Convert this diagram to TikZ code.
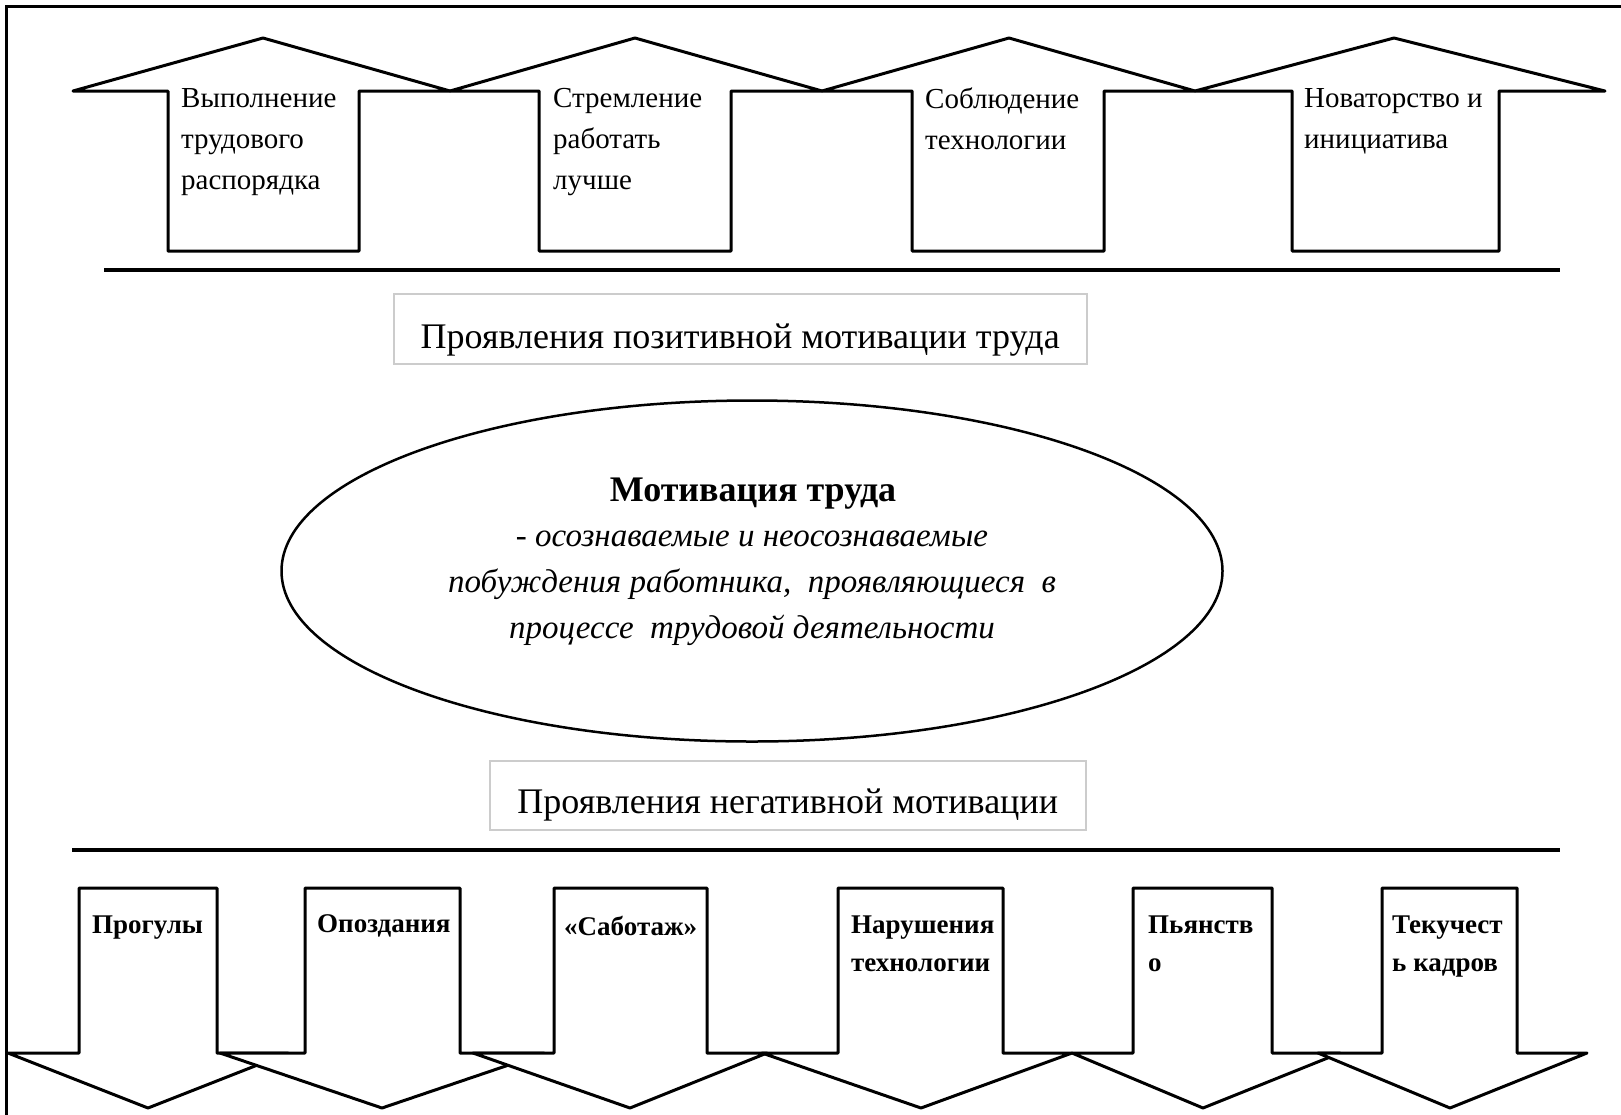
\documentclass[tikz,border=0pt]{standalone}
\usepackage{fontspec}
\setmainfont{Liberation Serif}
\usetikzlibrary{shapes.geometric}

\begin{document}
\begin{tikzpicture}[
      x=1pt, y=-1pt,
      border/.style={line width=3pt},
      bar/.style={line width=4pt},
      pointer/.style={draw, fill=white, line width=3pt, line join=round},
      upitem/.style={anchor=north west, align=left, inner sep=0pt, font=\fontsize{29}{41}\selectfont},
      downitem/.style={anchor=north west, align=left, inner sep=0pt, font=\fontsize{27}{38}\selectfont\bfseries},
      headline/.style={draw=black!20, line width=1.5pt, inner sep=0pt, anchor=north west, font=\fontsize{36}{40}\selectfont}
    ]
    \useasboundingbox (0,0) rectangle (1621,1114);
    \draw[border] (6,1130) -- (6,6) -- (1640,6);

    % upper arrows
    \draw[pointer] (168,251) -- (168,91) -- (73,91) -- (263,38) -- (450,91) -- (359,91) -- (359,251) -- cycle;
    \draw[pointer] (539,251) -- (539,91) -- (450,91) -- (635,38) -- (822,91) -- (731,91) -- (731,251) -- cycle;
    \draw[pointer] (912,251) -- (912,91) -- (822,91) -- (1009,38) -- (1195,91) -- (1104,91) -- (1104,251) -- cycle;
    \draw[pointer] (1292,251) -- (1292,91) -- (1195,91) -- (1394,38) -- (1605,91) -- (1499,91) -- (1499,251) -- cycle;

    \node[upitem] (up1) at (181,88) {Выполнение\\трудового\\распорядка};
    \node[upitem] (up2) at (553,88) {Стремление\\работать\\лучше};
    \node[upitem] (up3) at (925,88) {Соблюдение\\технологии};
    \node[upitem] (up4) at (1304,88) {Новаторство и\\инициатива};

    \draw[bar] (104,270) -- (1560,270);

    \node[headline, minimum width=693pt, text height=55pt, text depth=15pt] (posbox) at (393,293) {Проявления позитивной мотивации труда};

    % centre
    \node[draw, ellipse, line width=2.5pt, minimum width=941pt, minimum height=341pt, inner sep=0pt] (motiv) at (752,571) {};
    \node[anchor=base, font=\fontsize{36}{40}\selectfont\bfseries] (motivtitle) at (753,501) {Мотивация труда};
    \node[anchor=north, align=center, inner sep=0pt, font=\fontsize{33}{46}\selectfont\itshape] (motivdef) at (752,531)
      {- осознаваемые и неосознаваемые\\побуждения работника,\ \ проявляющиеся\ \ в\\процессе\ \ трудовой деятельности};

    \node[headline, minimum width=596pt, text height=53pt, text depth=16pt] (negbox) at (489,760) {Проявления негативной мотивации};

    \draw[bar] (72,850) -- (1560,850);

    % lower arrows
    \draw[pointer] (79,888) -- (79,1053) -- (8,1053) -- (148,1108) -- (288,1053) -- (217,1053) -- (217,888) -- cycle;
    \draw[pointer] (305,888) -- (305,1053) -- (220,1053) -- (382,1108) -- (544,1053) -- (460,1053) -- (460,888) -- cycle;
    \draw[pointer] (554,888) -- (554,1053) -- (473,1053) -- (630,1108) -- (767,1053) -- (707,1053) -- (707,888) -- cycle;
    \draw[pointer] (838,888) -- (838,1053) -- (762,1053) -- (921,1108) -- (1072,1053) -- (1003,1053) -- (1003,888) -- cycle;
    \draw[pointer] (1133,888) -- (1133,1053) -- (1072,1053) -- (1203,1108) -- (1340,1053) -- (1272,1053) -- (1272,888) -- cycle;
    \draw[pointer] (1382,888) -- (1382,1053) -- (1318,1053) -- (1450,1108) -- (1587,1053) -- (1517,1053) -- (1517,888) -- cycle;

    \node[downitem] (down1) at (92,916) {Прогулы};
    \node[downitem] (down2) at (317,914) {Опоздания};
    \node[downitem] (down3) at (564,916) {«Саботаж»};
    \node[downitem] (down4) at (851,916) {Нарушения\\технологии};
    \node[downitem] (down5) at (1148,916) {Пьянств\\о};
    \node[downitem] (down6) at (1392,916) {Текучест\\ь кадров};
  \end{tikzpicture}
\end{document}
